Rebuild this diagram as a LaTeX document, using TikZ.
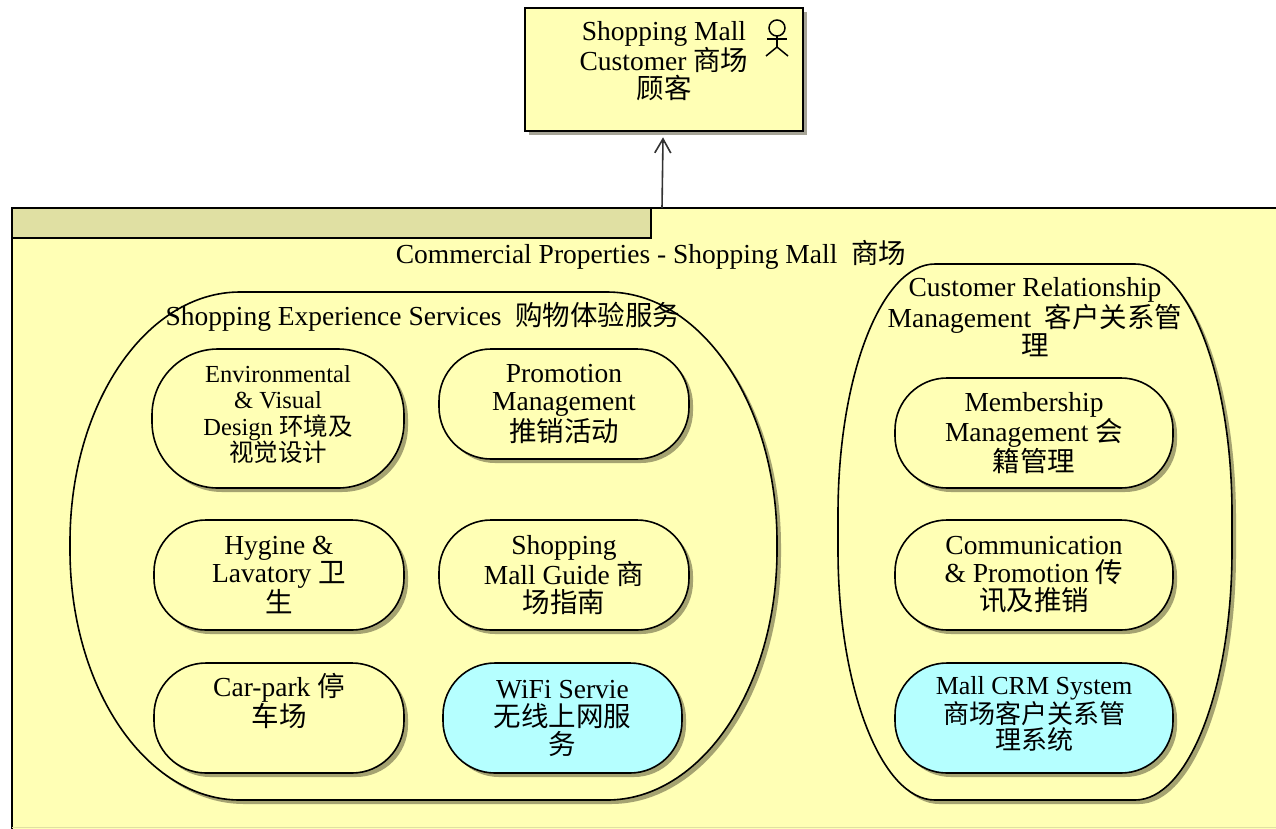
\documentclass[tikz,border=0pt]{standalone}
\usepackage{fontspec}
\setmainfont{Liberation Serif}
\newfontfamily\cjk{Noto Sans CJK SC}
\usepackage{tikz}
\usetikzlibrary{arrows.meta}
\usetikzlibrary{shadows}
\definecolor{mallyellow}{HTML}{FFFFB5}
\definecolor{malltab}{HTML}{E0E0A3}
\definecolor{syscyan}{HTML}{B5FFFF}
\newcommand{\zh}[1]{{\cjk #1}}
\tikzstyle{caption}=[align=center,font=\fontsize{27.5}{28}\selectfont,inner sep=0pt]
\tikzstyle{shade}=[drop shadow={shadow xshift=4pt,shadow yshift=-4pt,fill=black!60!olive,opacity=.5}]
\tikzstyle{actorbox}=[draw,rectangle,fill=mallyellow,shade,minimum width=278pt,minimum height=123pt]
\tikzstyle{group}=[draw,fill=mallyellow,shade]
\tikzstyle{service}=[draw,rectangle,fill=mallyellow,shade,caption,rounded corners=52pt,minimum height=110pt,minimum width=250pt]
\tikzstyle{system}=[service,fill=syscyan]
\tikzstyle{stick}=[line width=1.5pt]

\begin{document}
\begin{tikzpicture}[x=1pt,y=-1pt,line width=1.6pt]
\clip (0,0) rectangle (1276,828);
\node [actorbox] (customer) at (664,69.5) {};
\node [caption] (customerlabel) at (customer) [yshift=8pt] {Shopping Mall\\Customer \zh{商场}\\\zh{顾客}};

% actor icon
\coordinate (hip) at (777,47);
\draw [stick] (777,28) circle (8pt);
\draw [stick] (777,36) -- (hip);
\draw [stick] (767,39) -- (787,39);
\draw [stick] (766,56) -- (hip) -- (788,56);

\node [draw,rectangle,fill=mallyellow,minimum width=1300pt,minimum height=650pt] (mall) at (662,533) {};
\draw [malltab,line width=1pt] (12,827.5) -- (1276,827.5);
\node [draw,rectangle,fill=malltab,minimum width=639pt,minimum height=30pt] (malltab) at (331.5,223) {};
\node [caption] (malllabel) at (651,255) {Commercial Properties - Shopping Mall \ \zh{商场}};
\coordinate (link) at (662,208);
\draw [-{Straight Barb[length=14pt,width=16pt]},line width=1.6pt,black!80,shorten >=5.5pt] (link) -- (customer);

% the two service groups
\draw [group] (240,292) arc[start angle=90,end angle=180,x radius=170pt,y radius=250pt]
  -- (70,550) arc[start angle=180,end angle=270,x radius=170pt,y radius=250pt]
  -- (607,800) arc[start angle=270,end angle=360,x radius=170pt,y radius=250pt]
  -- (777,542) arc[start angle=0,end angle=90,x radius=170pt,y radius=250pt]
  -- cycle;
\draw [group] (935,264) arc[start angle=90,end angle=180,x radius=97pt,y radius=250pt]
  -- (838,550) arc[start angle=180,end angle=270,x radius=97pt,y radius=250pt]
  -- (1135,800) arc[start angle=270,end angle=360,x radius=97pt,y radius=250pt]
  -- (1232,514) arc[start angle=0,end angle=90,x radius=97pt,y radius=250pt]
  -- cycle;
\node [caption] (shoppinglabel) at (423,317) {Shopping Experience Services \ \zh{购物体验服务}};
\node [caption] (crmlabel) at (1035,317) {Customer Relationship\\Management \ \zh{客户关系管}\\\zh{理}};

\node [service,minimum width=252pt,minimum height=139pt,rounded corners=66pt,font=\fontsize{24.5}{26.5}\selectfont] (environment) at (278,418.5) {Environmental\\\&~Visual\\Design \zh{环境及}\\\zh{视觉设计}\\[-16.5pt]\mbox{}};
\node [service] (promotion) at (564,404) {Promotion\\Management\\\zh{推销活动}};
\node [service] (hygine) at (279,575) {Hygine \&\\Lavatory \zh{卫}\\\zh{生}};
\node [service] (guide) at (564,575) {Shopping\\Mall Guide \zh{商}\\\zh{场指南}};
\node [service] (carpark) at (279,718) {Car-park \zh{停}\\\zh{车场}\\[8pt]\mbox{}};
\node [system,minimum width=239pt] (wifi) at (562.5,718) {WiFi Servie\\\zh{无线上网服}\\\zh{务}};

\node [service,minimum width=278pt] (membership) at (1034,433) {Membership\\Management \zh{会}\\\zh{籍管理}};
\node [service,minimum width=278pt] (communication) at (1034,575) {Communication\\\& Promotion \zh{传}\\\zh{讯及推销}};
\node [system,minimum width=278pt,font=\fontsize{26}{26.5}\selectfont] (crmsystem) at (1034,718) {Mall CRM System\\\zh{商场客户关系管}\\\zh{理系统}\\[-16.5pt]\mbox{}};
\end{tikzpicture}
\end{document}
